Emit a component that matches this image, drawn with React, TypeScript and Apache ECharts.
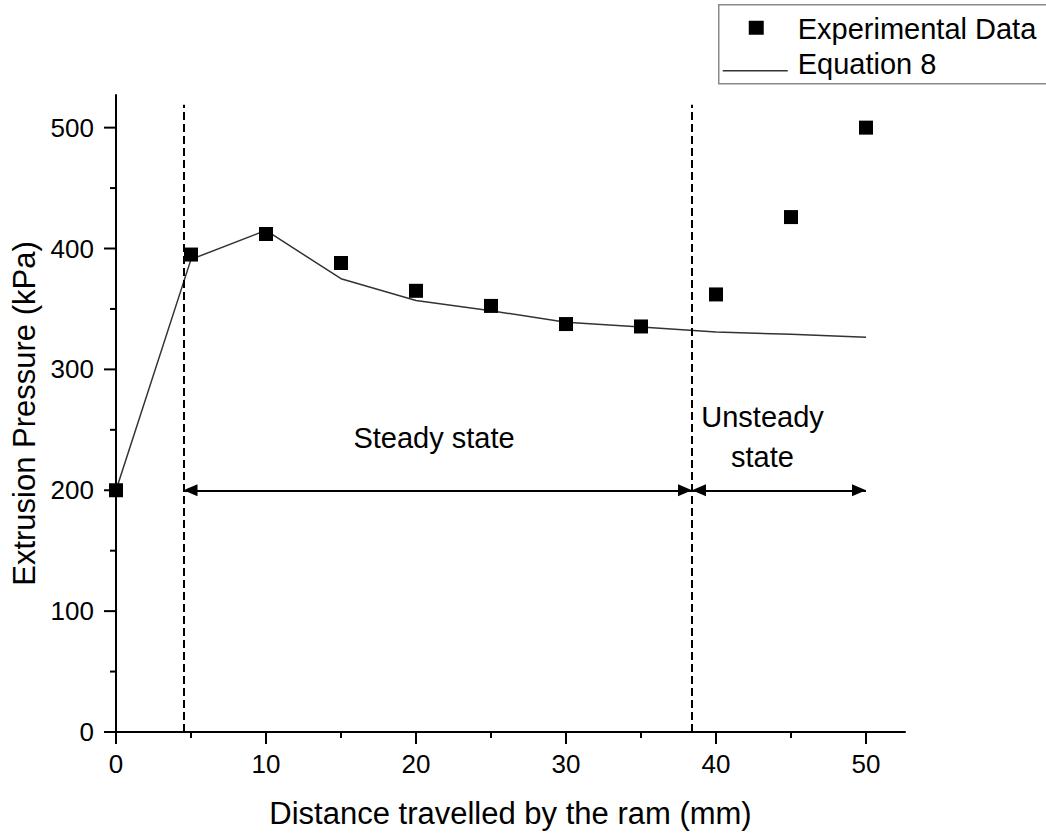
import React, { useEffect, useRef } from "react";
import * as echarts from "echarts";

const distance = [0, 5, 10, 15, 20, 25, 30, 35, 40, 45, 50];
const experimental = [200, 395, 412, 388, 365, 352.5, 337.5, 335.5, 362, 426, 500];
const equation8 = [200, 391, 415, 375, 357, 348.5, 339, 335, 331, 329, 326.5];

const xMajorTicks = [0, 10, 20, 30, 40, 50];
const xMinorTicks = [5, 15, 25, 35, 45];
const yMajorTicks = [0, 100, 200, 300, 400, 500];
const yMinorTicks = [50, 150, 250, 350, 450];

const regionBounds = [4.5, 38.4];
const arrowLevel = 200;
const unsteadyEnd = 50;
const dashTop = 519;
const steadyLabelAt = [21.2, 243];
const unsteadyLabelAt = [43.1, 244];

const FONT = "'Liberation Sans', Arial, sans-serif";
const X_MAX = 52.6;
const Y_MAX = 527;
const MAJOR_LEN = 12;
const MINOR_LEN = 6;

export default function App() {
  const ref = useRef<HTMLDivElement>(null);
  useEffect(() => {
    if (!ref.current) return;
    const chart = echarts.init(ref.current, undefined, { renderer: "svg" });
    const pairs = (ys: number[]) => distance.map((x, i) => [x, ys[i]]);
    const arrowStyle = { color: "#000", width: 2, type: "solid" as const };
    const dashStyle = { color: "#000", width: 2, type: [8, 4] };
    chart.setOption({
      animation: false,
      backgroundColor: "#fff",
      textStyle: { fontFamily: FONT, color: "#000" },
      grid: { left: 116, right: 141, top: 95, bottom: 105, outerBoundsMode: "none" },
      xAxis: {
        type: "value",
        min: 0,
        max: X_MAX,
        interval: 10,
        name: "Distance travelled by the ram (mm)",
        nameLocation: "middle",
        nameGap: 66,
        nameTextStyle: { fontSize: 31, color: "#000", fontFamily: FONT },
        axisLine: { show: true, onZero: false, lineStyle: { color: "#000", width: 2 } },
        axisTick: { show: false },
        axisLabel: {
          show: true,
          showMaxLabel: false,
          margin: 19,
          fontSize: 26,
          color: "#000",
          fontFamily: FONT,
          formatter: (v: number) => (xMajorTicks.includes(v) ? String(v) : ""),
        },
        splitLine: { show: false },
      },
      yAxis: {
        type: "value",
        min: 0,
        max: Y_MAX,
        interval: 100,
        name: "Extrusion Pressure (kPa)",
        nameLocation: "middle",
        nameGap: 74,
        nameTextStyle: { fontSize: 31, color: "#000", fontFamily: FONT },
        axisLine: { show: true, onZero: false, lineStyle: { color: "#000", width: 2 } },
        axisTick: { show: false },
        axisLabel: {
          show: true,
          showMaxLabel: false,
          margin: 22,
          fontSize: 26,
          color: "#000",
          fontFamily: FONT,
          formatter: (v: number) => (yMajorTicks.includes(v) ? String(v) : ""),
        },
        splitLine: { show: false },
      },
      series: [
        {
          name: "Equation 8",
          type: "line",
          data: pairs(equation8),
          showSymbol: false,
          symbol: "none",
          lineStyle: { color: "#333", width: 1.5 },
          z: 2,
          markLine: {
            silent: true,
            animation: false,
            label: { show: false },
            emphasis: { disabled: true },
            lineStyle: dashStyle,
            data: [
              [
                { coord: [regionBounds[0], 0], symbol: "none", lineStyle: dashStyle },
                { coord: [regionBounds[0], dashTop], symbol: "none", lineStyle: dashStyle },
              ],
              [
                { coord: [regionBounds[1], 0], symbol: "none", lineStyle: dashStyle },
                { coord: [regionBounds[1], dashTop], symbol: "none", lineStyle: dashStyle },
              ],
              [
                { coord: [regionBounds[0], arrowLevel], symbol: "triangle", symbolSize: [12, 14], symbolOffset: [0, 7], lineStyle: arrowStyle, itemStyle: { color: "#000" } },
                { coord: [regionBounds[1], arrowLevel], symbol: "triangle", symbolSize: [12, 14], symbolOffset: [0, 7], lineStyle: arrowStyle, itemStyle: { color: "#000" } },
              ],
              [
                { coord: [regionBounds[1], arrowLevel], symbol: "triangle", symbolSize: [12, 14], symbolOffset: [0, 7], lineStyle: arrowStyle, itemStyle: { color: "#000" } },
                { coord: [unsteadyEnd, arrowLevel], symbol: "triangle", symbolSize: [12, 14], symbolOffset: [0, 7], lineStyle: arrowStyle, itemStyle: { color: "#000" } },
              ],
            ],
          },
          markPoint: {
            silent: true,
            symbol: "circle",
            symbolSize: 0,
            itemStyle: { color: "transparent" },
            label: {
              show: true,
              position: "inside",
              color: "#000",
              fontSize: 29,
              lineHeight: 40,
              fontFamily: FONT,
              align: "center",
              verticalAlign: "middle",
            },
            data: [
              { coord: steadyLabelAt, label: { formatter: "Steady state" } },
              { coord: unsteadyLabelAt, label: { formatter: "Unsteady\nstate" } },
            ],
          },
        },
        {
          name: "Experimental Data",
          type: "scatter",
          data: pairs(experimental),
          symbol: "rect",
          symbolSize: 14,
          itemStyle: { color: "#000", opacity: 1 },
          z: 3,
        },
      ],
    });

    // Tick marks positioned through the chart's own axis scales.
    const toPx = (x: number, y: number) => chart.convertToPixel({ gridIndex: 0 }, [x, y]) as number[];
    const tickLine = (x1: number, y1: number, x2: number, y2: number) => ({
      type: "line",
      silent: true,
      z: 50,
      shape: { x1, y1, x2, y2 },
      style: { stroke: "#000", lineWidth: 2 },
    });
    const els: any[] = [];
    xMajorTicks.forEach((v) => {
      const [px, py] = toPx(v, 0);
      els.push(tickLine(px, py, px, py + MAJOR_LEN));
    });
    xMinorTicks.forEach((v) => {
      const [px, py] = toPx(v, 0);
      els.push(tickLine(px, py, px, py + MINOR_LEN));
    });
    yMajorTicks.forEach((v) => {
      const [px, py] = toPx(0, v);
      els.push(tickLine(px, py, px - MAJOR_LEN, py));
    });
    yMinorTicks.forEach((v) => {
      const [px, py] = toPx(0, v);
      els.push(tickLine(px, py, px - MINOR_LEN, py));
    });

    const legend = {
      type: "group",
      left: 718,
      top: 4,
      z: 60,
      children: [
        { type: "rect", shape: { x: 0, y: 0, width: 340, height: 79 }, style: { fill: "#fff", stroke: "#8a8a8a", lineWidth: 1.5 } },
        { type: "rect", shape: { x: 30, y: 16, width: 15, height: 14 }, style: { fill: "#000" } },
        { type: "text", x: 79, y: 24, style: { text: "Experimental Data", font: `29px ${FONT}`, fill: "#000", verticalAlign: "middle" } },
        { type: "line", shape: { x1: 4, y1: 66, x2: 69, y2: 66 }, style: { stroke: "#333", lineWidth: 1.5 } },
        { type: "text", x: 79, y: 59, style: { text: "Equation 8", font: `29px ${FONT}`, fill: "#000", verticalAlign: "middle" } },
      ],
    };

    chart.setOption({ graphic: [legend, ...els] });
    return () => chart.dispose();
  }, []);
  return <div ref={ref} style={{ position: "fixed", left: 0, top: 0, width: 1046, height: 837 }} />;
}
